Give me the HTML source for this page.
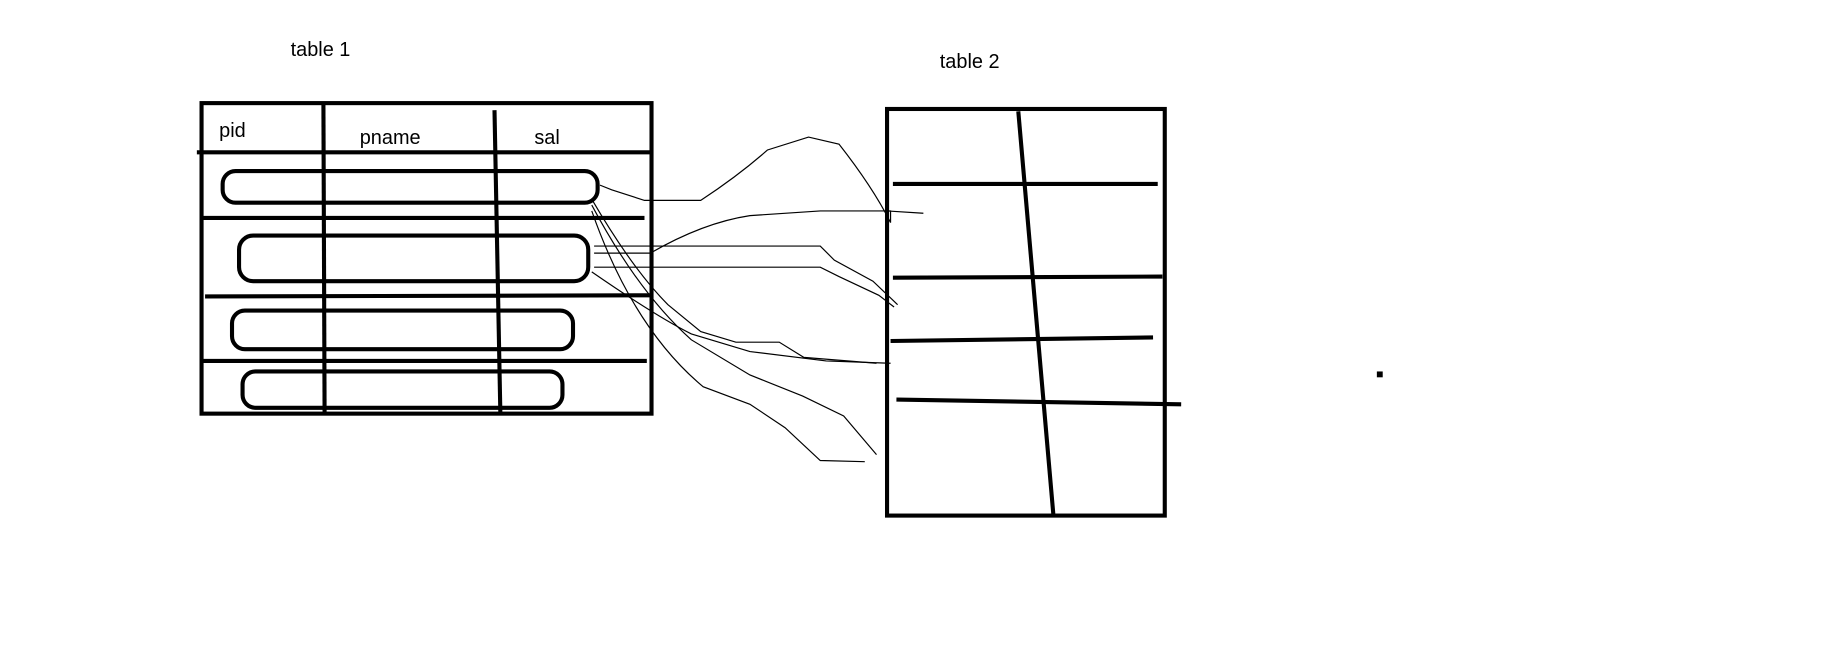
<!DOCTYPE html>
<html><head><meta charset="utf-8"><style>
html,body{margin:0;padding:0;background:#fff;width:1828px;height:648px;overflow:hidden}
svg{display:block}
text{font-family:"Liberation Sans",sans-serif;font-size:17px;fill:#000}
</style></head><body>
<svg width="1828" height="648" viewBox="0 0 1560 553" preserveAspectRatio="none">
<rect width="1560" height="553" fill="#fff"/>
<text x="248" y="48">table 1</text>
<text x="802" y="58">table 2</text>
<g stroke="#000" stroke-width="3.5" fill="none">
<rect x="172" y="88" width="384" height="265"/>
<line x1="168" y1="130" x2="557" y2="130"/>
<line x1="276" y1="88" x2="277" y2="353"/>
<line x1="422" y1="94" x2="427" y2="353"/>
<line x1="172" y1="186" x2="550" y2="186"/>
<line x1="175" y1="253" x2="555" y2="252"/>
<line x1="172" y1="308" x2="552" y2="308"/>
<rect x="190" y="146" width="320" height="27" rx="11"/>
<rect x="204" y="201" width="298" height="39" rx="12"/>
<rect x="198" y="265" width="291" height="33" rx="11"/>
<rect x="207" y="317" width="273" height="31" rx="11"/>
</g>
<text x="187" y="117">pid</text>
<text x="307" y="123">pname</text>
<text x="456" y="123">sal</text>
<g stroke="#000" stroke-width="3.5" fill="none">
<rect x="757" y="93" width="237" height="347"/>
<line x1="869" y1="95" x2="899" y2="440"/>
<line x1="762" y1="157" x2="988" y2="157"/>
<line x1="762" y1="237" x2="992" y2="236"/>
<line x1="760" y1="291" x2="984" y2="288"/>
<line x1="765" y1="341" x2="1008" y2="345"/>
</g>
<g stroke="#000" stroke-width="1" fill="none">
<path d="M512,158 L522,162 L550,171 L598,171 Q630,150 655,128 L690,117 L716,123 Q745,160 760,190 M757,180 L788,182"/>
<path d="M507,216 L555,216 Q600,190 640,184 L700,180 L760,180 L760,190"/>
<path d="M507,210 L700,210 L712,222 L745,240 L766,260"/>
<path d="M507,228 L700,228 L716,236 L750,252 L763,262"/>
<path d="M505,170 Q540,230 570,260 L598,283 L628,292 L665,292 L686,305 L748,310"/>
<path d="M505,175 Q545,250 590,290 L640,320 L685,338 L720,355 L748,388"/>
<path d="M505,180 Q540,280 600,330 L640,345 L670,365 L700,393 L738,394"/>
<path d="M505,232 Q560,270 590,285 L640,300 L705,308 L760,310"/>
</g>
<rect x="1175" y="317" width="5" height="5" fill="#000"/>
</svg>
</body></html>
